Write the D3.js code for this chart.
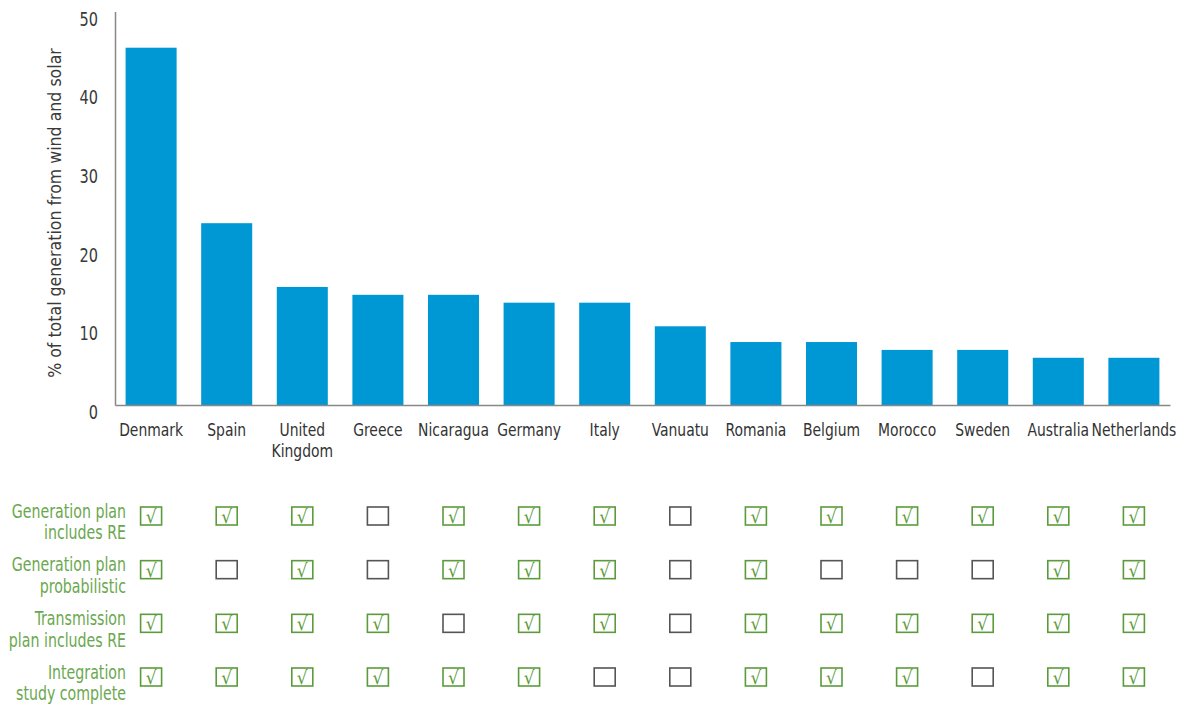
<!DOCTYPE html>
<html lang="en">
<head>
    <meta charset="UTF-8">
    <title>Wind and solar share</title>
    <script src="https://d3js.org/d3.v7.min.js"></script>
    <style>
        body { margin: 0; background: #fff; }
        svg text { font-family: "DejaVu Sans Condensed", "DejaVu Sans", sans-serif; font-stretch: condensed; }
    </style>
</head>
<body>
<svg width="1186" height="707"></svg>
<script>
    // data
    var countries = ["Denmark", "Spain", "United Kingdom", "Greece", "Nicaragua", "Germany", "Italy",
        "Vanuatu", "Romania", "Belgium", "Morocco", "Sweden", "Australia", "Netherlands"];
    var share = [45.4, 23.1, 15, 14, 14, 13, 13, 10, 8, 8, 7, 7, 6, 6];
    var yTicks = [0, 10, 20, 30, 40, 50];

    var rowLabels = [
        ["Generation plan", "includes RE"],
        ["Generation plan", "probabilistic"],
        ["Transmission", "plan includes RE"],
        ["Integration", "study complete"]
    ];
    // 1 = checked, 0 = empty box, one entry per country
    var genPlanRE       = [1, 1, 1, 0, 1, 1, 1, 0, 1, 1, 1, 1, 1, 1];
    var genPlanProb     = [1, 0, 1, 0, 1, 1, 1, 0, 1, 0, 0, 0, 1, 1];
    var transPlanRE     = [1, 1, 1, 1, 0, 1, 1, 0, 1, 1, 1, 1, 1, 1];
    var integration     = [1, 1, 1, 1, 1, 1, 0, 0, 1, 1, 1, 0, 1, 1];
    var checks = [genPlanRE, genPlanProb, transPlanRE, integration];

    var svg = d3.select("svg");
    var green = "#5b9b3a";

    var x = d3.scaleBand().domain(countries).range([115, 1170]).paddingInner(0.325).paddingOuter(0.14);
    var y = d3.scaleLinear().domain([0, 50]).range([405, 11.5]);

    // bars
    svg.selectAll(".bar")
        .data(countries)
        .enter().append("rect")
        .attr("class", "bar")
        .attr("x", function (d) { return x(d); })
        .attr("y", function (d, i) { return y(share[i]); })
        .attr("width", x.bandwidth())
        .attr("height", function (d, i) { return y(0) - y(share[i]); })
        .attr("fill", "#0098d4");

    // y axis
    var yAxis = svg.append("g")
        .attr("transform", "translate(115,0)")
        .call(d3.axisLeft(y).tickValues(yTicks).tickSize(0).tickPadding(17));
    yAxis.select(".domain").attr("stroke", "#888").attr("stroke-width", 1.5);
    yAxis.selectAll("text")
        .attr("font-size", 19)
        .attr("fill", "#3a3a3a")
        .attr("x", 0)
        .attr("transform", "translate(-17,0) scale(0.85,1)")
        .attr("dy", "0.72em");

    // x axis
    var xAxis = svg.append("g")
        .attr("transform", "translate(0,405)")
        .call(d3.axisBottom(x).tickSize(0).tickSizeOuter(0).tickFormat(""));
    xAxis.select(".domain").attr("stroke", "#888").attr("stroke-width", 1.5);

    var xl = xAxis.selectAll(".tick").append("text")
        .attr("fill", "#333")
        .attr("font-size", 18)
        .attr("transform", "scale(0.86,1)")
        .attr("text-anchor", "middle");
    xl.each(function (d) {
        var lines = d.split(" ");
        var t = d3.select(this);
        lines.forEach(function (s, k) {
            t.append("tspan").attr("x", 0).attr("y", 31 + k * 21).text(s);
        });
    });

    svg.append("text")
        .attr("transform", "translate(61,213) rotate(-90) scale(0.95,1)")
        .attr("text-anchor", "middle")
        .attr("font-size", 18.5)
        .attr("fill", "#3a3a3a")
        .text("% of total generation from wind and solar");

    // checkbox table
    var rowY = d3.scalePoint().domain(d3.range(rowLabels.length)).range([516, 677]);

    var rows = svg.selectAll(".row")
        .data(rowLabels)
        .enter().append("g")
        .attr("class", "row")
        .attr("transform", function (d, i) { return "translate(0," + rowY(i) + ")"; });

    rows.append("text")
        .attr("text-anchor", "end")
        .attr("font-size", 19)
        .attr("fill", "#6aa84f")
        .attr("transform", "translate(126,0) scale(0.83,1)")
        .each(function (d) {
            var t = d3.select(this);
            t.append("tspan").attr("x", 0).attr("y", 1.5).text(d[0]);
            t.append("tspan").attr("x", 0).attr("y", 23.5).text(d[1]);
        });

    rows.each(function (r, i) {
        var cells = d3.select(this).selectAll(".cell")
            .data(countries)
            .enter().append("g")
            .attr("class", "cell")
            .attr("transform", function (d) {
                return "translate(" + (x(d) + x.bandwidth() / 2) + ",0)";
            });
        cells.append("rect")
            .attr("x", -10.5)
            .attr("y", -9)
            .attr("width", 21)
            .attr("height", 18)
            .attr("fill", "none")
            .attr("stroke", function (d, j) { return checks[i][j] ? green : "#555"; })
            .attr("stroke-width", 1.6);
        cells.filter(function (d, j) { return checks[i][j]; })
            .append("text")
            .attr("text-anchor", "middle")
            .attr("y", 7)
            .attr("font-size", 19)
            .attr("fill", green)
            .text("\u221A");
    });
</script>
</body>
</html>
